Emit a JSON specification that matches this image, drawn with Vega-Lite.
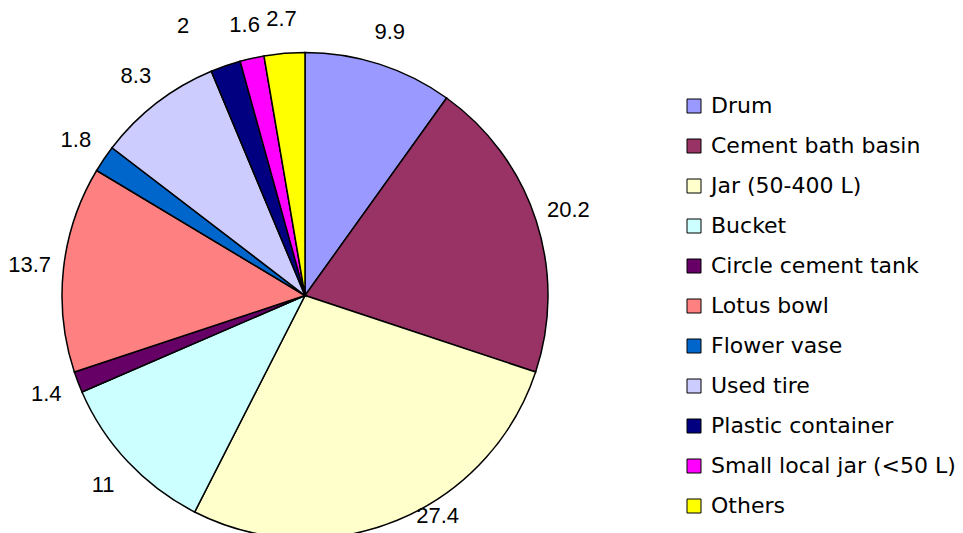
{
  "$schema": "https://vega.github.io/schema/vega-lite/v6.json",
  "autosize": "none",
  "width": 610,
  "height": 475,
  "padding": {"left": 0, "top": 58, "right": 353, "bottom": 0},
  "background": "white",
  "config": {"view": {"stroke": null}, "font": "Liberation Sans"},
  "data": {
    "values": [
      {"idx": 1, "cat": "Drum", "value": 9.9},
      {"idx": 2, "cat": "Cement bath basin", "value": 20.2},
      {"idx": 3, "cat": "Jar (50-400 L)", "value": 27.4},
      {"idx": 4, "cat": "Bucket", "value": 11},
      {"idx": 5, "cat": "Circle cement tank", "value": 1.4},
      {"idx": 6, "cat": "Lotus bowl", "value": 13.7},
      {"idx": 7, "cat": "Flower vase", "value": 1.8},
      {"idx": 8, "cat": "Used tire", "value": 8.3},
      {"idx": 9, "cat": "Plastic container", "value": 2},
      {"idx": 10, "cat": "Small local jar (<50 L)", "value": 1.6},
      {"idx": 11, "cat": "Others", "value": 2.7}
    ]
  },
  "encoding": {
    "theta": {"field": "value", "type": "quantitative", "stack": true},
    "order": {"field": "idx", "type": "quantitative"}
  },
  "layer": [
    {
      "mark": {"type": "arc", "outerRadius": 243, "stroke": "black", "strokeWidth": 1.5},
      "encoding": {
        "color": {
          "field": "cat",
          "type": "nominal",
          "scale": {
            "domain": ["Drum", "Cement bath basin", "Jar (50-400 L)", "Bucket", "Circle cement tank", "Lotus bowl", "Flower vase", "Used tire", "Plastic container", "Small local jar (<50 L)", "Others"],
            "range": ["#9999FF", "#993366", "#FFFFCC", "#CCFFFF", "#660066", "#FF8080", "#0066CC", "#CCCCFF", "#000080", "#FF00FF", "#FFFF00"]
          },
          "legend": {
            "title": null,
            "orient": "none",
            "legendX": 683,
            "legendY": 37,
            "symbolType": "square",
            "symbolSize": 196,
            "symbolStrokeColor": "black",
            "symbolStrokeWidth": 1,
            "symbolOpacity": 1,
            "labelFont": "DejaVu Sans",
            "labelFontSize": 22,
            "labelColor": "black",
            "labelOffset": 6,
            "labelLimit": 400,
            "rowPadding": 18
          }
        }
      }
    },
    {
      "mark": {"type": "text", "radius": 277, "font": "Liberation Sans", "fontSize": 22, "color": "black"},
      "encoding": {
        "text": {
          "condition": {"test": "datum.cat !== 'Jar (50-400 L)' && datum.cat !== 'Plastic container'", "field": "value", "type": "quantitative"},
          "value": ""
        }
      }
    },
    {
      "mark": {"type": "text", "radius": 265, "dx": 32, "dy": -25, "font": "Liberation Sans", "fontSize": 22, "color": "black"},
      "encoding": {
        "text": {
          "condition": {"test": "datum.cat === 'Jar (50-400 L)'", "field": "value", "type": "quantitative"},
          "value": ""
        }
      }
    },
    {
      "mark": {"type": "text", "radius": 275, "dx": -32, "dy": -10, "font": "Liberation Sans", "fontSize": 22, "color": "black"},
      "encoding": {
        "text": {
          "condition": {"test": "datum.cat === 'Plastic container'", "field": "value", "type": "quantitative"},
          "value": ""
        }
      }
    }
  ]
}
